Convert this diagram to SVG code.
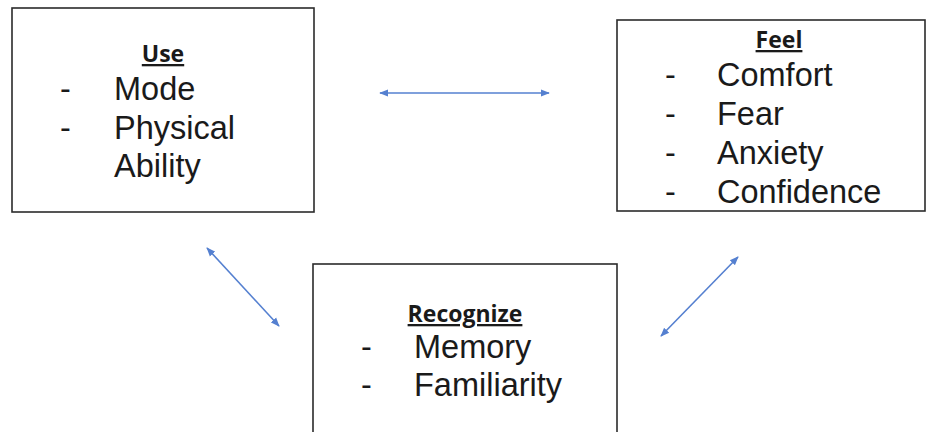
<svg xmlns="http://www.w3.org/2000/svg" width="928" height="432" viewBox="0 0 928 432">
<defs>
<style>
.box{fill:#fff;stroke:#2b2b2b;stroke-width:1.6}
.title{font-family:"Open Sans","Liberation Sans",sans-serif;font-weight:bold;font-size:23px;fill:#1a1a1a;text-decoration:underline}
.item{font-family:"Liberation Sans",Arial,sans-serif;font-size:32.5px;fill:#1a1a1a}
.conn{stroke:#5580d0;stroke-width:1.6;fill:none;marker-start:url(#ah);marker-end:url(#ah)}
</style>
<marker id="ah" viewBox="0 0 10 10" refX="9" refY="5" markerWidth="9" markerHeight="9" orient="auto-start-reverse" markerUnits="userSpaceOnUse">
<path d="M0,1 L10,5 L0,9 z" fill="#5580d0"/>
</marker>
</defs>
<rect width="928" height="432" fill="#fff"/>
<g id="use">
<rect class="box" x="12" y="8" width="302" height="204"/>
<text class="title" x="163" y="62" text-anchor="middle">Use</text>
<text class="item" x="60" y="100">-</text>
<text class="item" x="114" y="100">Mode</text>
<text class="item" x="60" y="139">-</text>
<text class="item" x="114" y="139">Physical</text>
<text class="item" x="114" y="177">Ability</text>
</g>
<g id="feel">
<rect class="box" x="617" y="20" width="308" height="191"/>
<text class="title" x="779" y="48" text-anchor="middle">Feel</text>
<text class="item" x="665" y="86">-</text>
<text class="item" x="717" y="86">Comfort</text>
<text class="item" x="665" y="125">-</text>
<text class="item" x="717" y="125">Fear</text>
<text class="item" x="665" y="164">-</text>
<text class="item" x="717" y="164">Anxiety</text>
<text class="item" x="665" y="203">-</text>
<text class="item" x="717" y="203">Confidence</text>
</g>
<g id="recognize">
<rect class="box" x="313" y="264" width="304" height="180"/>
<text class="title" x="465" y="322" text-anchor="middle">Recognize</text>
<text class="item" x="361" y="358">-</text>
<text class="item" x="414" y="358">Memory</text>
<text class="item" x="361" y="396">-</text>
<text class="item" x="414" y="396">Familiarity</text>
</g>
<g id="connectors">
<line class="conn" x1="380" y1="93" x2="549" y2="93"/>
<line class="conn" x1="207" y1="248" x2="279" y2="326"/>
<line class="conn" x1="738" y1="257" x2="661" y2="336"/>
</g>
</svg>
